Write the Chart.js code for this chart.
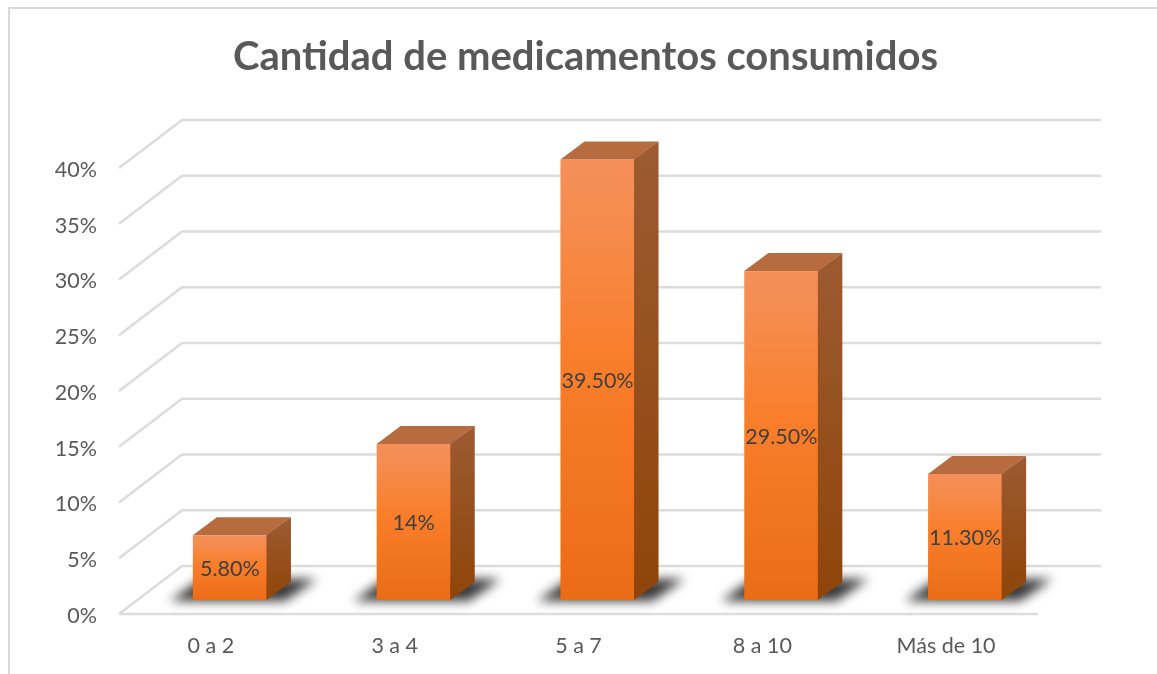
<!DOCTYPE html>
<html><head><meta charset="utf-8">
<style>html,body{margin:0;padding:0;background:#fff}#w{width:1157px;height:674px}canvas{display:block}</style>
<script src="https://cdn.jsdelivr.net/npm/chart.js@4/dist/chart.umd.js"></script>
</head><body><div id="w"><canvas id="c" width="1157" height="674"></canvas></div>
<script>
const categories = ["0 a 2","3 a 4","5 a 7","8 a 10","Más de 10"];
const values = [5.8,14,39.5,29.5,11.3];
const valueLabels = ["5.80%","14%","39.50%","29.50%","11.30%"];
const titleText = "Cantidad de medicamentos consumidos";
const FONT = "Lato, 'Open Sans', sans-serif";
const WALL_DX = 63, WALL_DY = 48, FLOOR_DX = 19, FLOOR_DY = 14, BAR_DX = 24, BAR_DY = 18;

function poly(ctx, pts){ctx.beginPath();pts.forEach((p,i)=>i?ctx.lineTo(p[0],p[1]):ctx.moveTo(p[0],p[1]));ctx.closePath();}

const frame = { id:'frame', beforeDraw(ch){
  const c=ch.ctx;c.save();c.fillStyle='#fff';c.fillRect(0,0,ch.width,ch.height);
  c.strokeStyle='#d9d9d9';c.lineWidth=2;c.beginPath();c.moveTo(9,674);c.lineTo(9,8);c.lineTo(1157,8);c.stroke();c.restore();
}};
const wall = { id:'wall', beforeDatasetsDraw(ch){
  const c=ch.ctx,y=ch.scales.y,a=ch.chartArea;c.save();c.strokeStyle='#dcdcdc';c.lineWidth=2.5;
  y.ticks.forEach(t=>{const py=y.getPixelForValue(t.value);
    c.beginPath();c.moveTo(a.left,py);c.lineTo(a.left+WALL_DX,py-WALL_DY);c.lineTo(a.right+WALL_DX,py-WALL_DY);c.stroke();});
  const p0=y.getPixelForValue(0);c.beginPath();c.moveTo(a.left,p0);c.lineTo(a.right,p0);c.stroke();c.restore();
}};
const bars3d = { id:'bars3d', beforeDatasetDraw(ch,args){
  const c=ch.ctx,meta=args.meta;
  meta.data.forEach((el,i)=>{
    const w=el.width,x0=el.x+FLOOR_DX-w/2,x1=x0+w,top=el.y-FLOOR_DY,base=el.base-FLOOR_DY;
    c.save();c.filter='blur(5.5px)';c.fillStyle='rgba(35,35,35,0.9)';
    poly(c,[[x0-23,base+1],[x1+18,base+1],[x1+50,base-21],[x0+8,base-21]]);c.fill();c.restore();
    let g=c.createLinearGradient(0,top,0,base);
    g.addColorStop(0,'#f58f58');g.addColorStop(.12,'#f58d50');g.addColorStop(.45,'#f97e2b');g.addColorStop(1,'#eb6c17');
    c.fillStyle=g;c.fillRect(x0,top,w,base-top);
    c.fillStyle='#b76c40';poly(c,[[x0,top],[x1,top],[x1+BAR_DX,top-BAR_DY],[x0+BAR_DX,top-BAR_DY]]);c.fill();
    g=c.createLinearGradient(0,top-BAR_DY,0,base);g.addColorStop(0,'#9d5b32');g.addColorStop(1,'#8f4509');
    c.fillStyle=g;poly(c,[[x1-0.5,top],[x1+BAR_DX,top-BAR_DY],[x1+BAR_DX,base-BAR_DY],[x1-0.5,base]]);c.fill();
    c.save();c.font="21.5px "+FONT;c.fillStyle='#404040';c.textAlign='center';c.textBaseline='middle';
    c.fillText(valueLabels[i],(x0+x1)/2,(top+base)/2+1.5);c.restore();
  });
  return false;
}};
const titlePos = { id:'titlePos', afterLayout(ch){ ch.titleBlock.left=14; ch.titleBlock.right=1157; } };

new Chart(document.getElementById('c'),{
  type:'bar',
  data:{labels:categories,datasets:[{label:'Cantidad',data:values,backgroundColor:'#f97e2b',borderWidth:0,barPercentage:0.403,categoryPercentage:1}]},
  plugins:[frame,wall,bars3d,titlePos],
  options:{
    responsive:false,animation:false,
    layout:{padding:{left:0,right:119,top:0,bottom:0}},
    plugins:{
      legend:{display:false},tooltip:{enabled:false},
      title:{display:true,text:titleText,color:'#595959',align:'center',font:{family:FONT,size:40,weight:'bold',lineHeight:1.2},padding:{top:33,bottom:87}}
    },
    scales:{
      x:{afterFit(s){s.height=60;},grid:{display:false},border:{display:false},
         ticks:{color:'#595959',font:{family:FONT,size:21.5},padding:11,maxRotation:0}},
      y:{min:0,max:40,afterFit(s){s.width=119;},grid:{display:false,drawTicks:false},border:{display:false},
         ticks:{stepSize:5,color:'#595959',font:{family:FONT,size:21.5},padding:22,labelOffset:2,callback:v=>v+'%'}}
    }
  }
});
</script></body></html>
